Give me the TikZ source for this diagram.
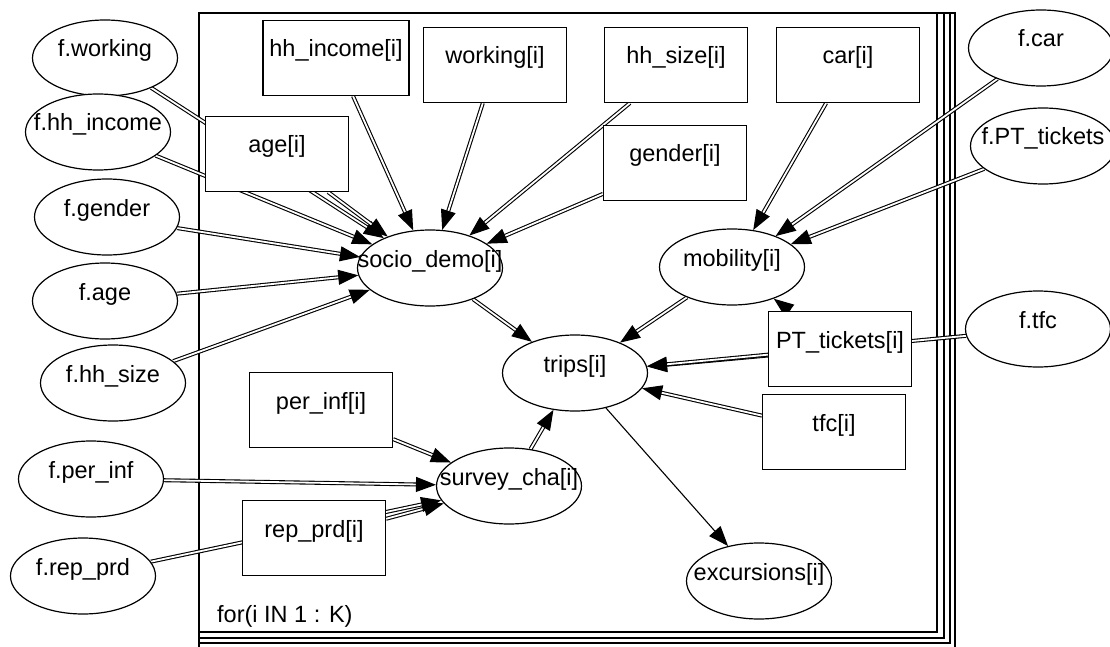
\documentclass[tikz,border=0pt]{standalone}
\usepackage{fontspec}
\setmainfont{Liberation Sans}
\usetikzlibrary{arrows.meta,shapes.geometric,backgrounds}
\newcommand{\lbl}[1]{\makebox[0pt]{#1}}

\begin{document}
\begin{tikzpicture}[x=1pt, y=-1pt,
                    every node/.style={font=\fontsize{23.5}{28}\selectfont,
                      inner sep=0pt, text height=10pt, text depth=12pt},
                    ellnode/.style={ellipse, draw, line width=1.2pt, fill=white,
                      minimum width=145pt, minimum height=76pt},
                    boxnode/.style={rectangle, draw, line width=1.2pt, fill=white,
                      minimum width=143pt, minimum height=75pt},
                    dblarrow/.style={-{Triangle[length=20pt,width=15pt]}, double,
                      line width=1.1pt, double distance=1.8pt},
                    sglarrow/.style={-{Triangle[length=20pt,width=15pt]}, line width=1.1pt}]
  \useasboundingbox (0,0) rectangle (1110,647);

  % priors outside the plate
  \node[ellnode] (fwork)   at (105,58)  {\lbl{f.working}};
  \node[ellnode] (fincome) at (98,132)  {\lbl{f.hh\_income}};
  \node[ellnode] (fgender) at (107,217) {\lbl{f.gender}};
  \node[ellnode] (fage)    at (105,301) {\lbl{f.age}};
  \node[ellnode] (fsize)   at (113,383) {\lbl{f.hh\_size}};
  \node[ellnode] (fperinf) at (91,479)  {\lbl{f.per\_inf}};
  \node[ellnode] (freprd)  at (83,576)  {\lbl{f.rep\_prd}};
  \node[ellnode] (fcar)    at (1041,48) {\lbl{f.car}};
  \node[ellnode] (fpt)     at (1043,146) {\lbl{f.PT\_tickets}};
  \node[ellnode] (ftfc)    at (1038,329) {\lbl{f.tfc}};

  % stochastic nodes in the plate
  \node[ellnode] (socio)  at (430,268) {\lbl{socio\_demo[i]}};
  \node[ellnode] (mob)    at (732,267) {\lbl{mobility[i]}};
  \node[ellnode] (trips)  at (575,373) {\lbl{trips[i]}};
  \node[ellnode] (survey) at (509,486) {\lbl{survey\_cha[i]}};
  \node[ellnode] (exc)    at (759,581) {\lbl{excursions[i]}};

  % data nodes
  \node[boxnode, minimum width=146pt] (income) at (336,58) {\lbl{hh\_income[i]}};
  \node[boxnode] (working) at (495,65)  {\lbl{working[i]}};
  \node[boxnode] (size)    at (676,65)  {\lbl{hh\_size[i]}};
  \node[boxnode] (car)     at (848,65)  {\lbl{car[i]}};
  \node[boxnode] (age)     at (277,154) {\lbl{age[i]}};
  \node[boxnode] (gender)  at (675,163) {\lbl{gender[i]}};
  \node[boxnode] (perinf)  at (321,410) {\lbl{per\_inf[i]}};
  \node[boxnode] (reprd)   at (314,538) {\lbl{rep\_prd[i]}};
  \node[boxnode] (pt)      at (840,349) {\lbl{PT\_tickets[i]}};
  \node[boxnode] (tfc)     at (834,432) {\lbl{tfc[i]}};

  \node[anchor=base west] (platelbl) at (217,622) {for(i IN 1 : K)};

  \begin{pgfonlayer}{background}
    % plate (stacked frames)
    \foreach \cx/\cy in {937/632, 944/638, 950/643, 955/650}
      \draw[line width=1.4pt] (199,13) rectangle (\cx,\cy);

    % edges
    \foreach \s in {fwork,fincome,age,fgender,fage,fsize,income,working,size,gender}
      \draw[dblarrow] (\s) -- (socio);
    \foreach \s in {car,fcar,fpt,pt}
      \draw[dblarrow] (\s) -- (mob);
    \foreach \s in {socio,mob,pt,ftfc,tfc,survey}
      \draw[dblarrow] (\s) -- (trips);
    \foreach \s in {perinf,fperinf,reprd,freprd}
      \draw[dblarrow] (\s) -- (survey);
    \draw[sglarrow] (trips) -- (exc);
  \end{pgfonlayer}
\end{tikzpicture}
\end{document}
